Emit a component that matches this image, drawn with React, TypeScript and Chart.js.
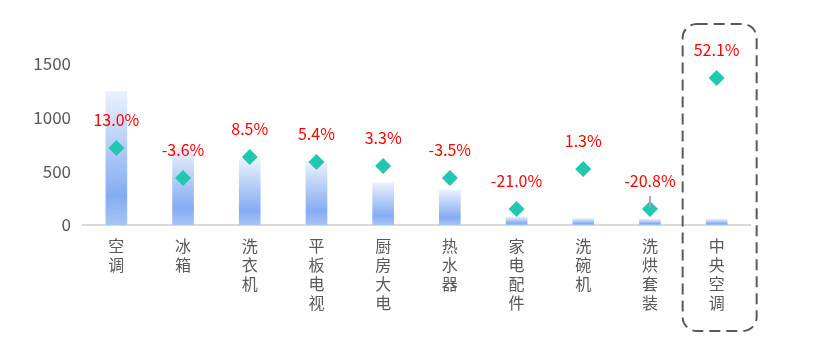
import React, { useEffect, useRef } from "react";
import { Chart, registerables } from "chart.js";

Chart.register(...registerables);

const categories = ["空调", "冰箱", "洗衣机", "平板电视", "厨房大电", "热水器", "家电配件", "洗碗机", "洗烘套装", "中央空调"];
const salesValues = [1242, 715, 612, 590, 394, 326, 77, 62, 56, 56];
const markerValues = [717, 438, 634, 587, 550, 438, 149, 522, 149, 1370];
const growthLabels = ["13.0%", "-3.6%", "8.5%", "5.4%", "3.3%", "-3.5%", "-21.0%", "1.3%", "-20.8%", "52.1%"];
const yTicks = [0, 500, 1000, 1500];
const highlightIndex = 9;
const leaderIndex = 8;

const FONT = "'Microsoft YaHei', 'Noto Sans CJK SC', sans-serif";

const overlayPlugin = {
  id: "overlay",
  afterDatasetsDraw(chart: any) {
    const ctx = chart.ctx as CanvasRenderingContext2D;
    const meta = chart.getDatasetMeta(0);
    ctx.save();
    ctx.font = `16px ${FONT}`;
    ctx.fillStyle = "#ff0000";
    ctx.textAlign = "center";
    ctx.textBaseline = "middle";
    meta.data.forEach((pt: any, i: number) => {
      ctx.fillText(growthLabels[i], pt.x, pt.y - 28);
    });
    // leader line
    const lp = meta.data[leaderIndex];
    if (lp) {
      ctx.strokeStyle = "#a6a6a6";
      ctx.lineWidth = 2;
      ctx.beginPath();
      ctx.moveTo(lp.x, lp.y - 13);
      ctx.lineTo(lp.x, lp.y - 1);
      ctx.stroke();
    }
    // dashed highlight box
    const xs = chart.scales.x;
    const cx = xs.getPixelForValue(highlightIndex);
    const left = cx - 34;
    const right = cx + 40;
    const top = 24;
    const bottom = 331;
    const r = 14;
    ctx.strokeStyle = "#595959";
    ctx.lineWidth = 2;
    ctx.setLineDash([11, 6]);
    ctx.beginPath();
    ctx.moveTo(left + r, top);
    ctx.lineTo(right - r, top);
    ctx.arcTo(right, top, right, top + r, r);
    ctx.lineTo(right, bottom - r);
    ctx.arcTo(right, bottom, right - r, bottom, r);
    ctx.lineTo(left + r, bottom);
    ctx.arcTo(left, bottom, left, bottom - r, r);
    ctx.lineTo(left, top + r);
    ctx.arcTo(left, top, left + r, top, r);
    ctx.closePath();
    ctx.stroke();
    ctx.restore();
  },
};

export default function App() {
  const ref = useRef<HTMLCanvasElement | null>(null);
  useEffect(() => {
    if (!ref.current) return;
    const chart = new Chart(ref.current, {
      type: "bar",
      data: {
        labels: categories.map((c) => c.split("")),
        datasets: [
          {
            type: "line",
            data: markerValues,
            showLine: false,
            pointStyle: "rectRot",
            pointRadius: 8,
            pointHoverRadius: 8,
            pointBackgroundColor: "#22c7b2",
            pointBorderColor: "#22c7b2",
            pointBorderWidth: 0,
            order: 0,
          } as any,
          {
            type: "bar",
            data: salesValues,
            barThickness: 21,
            order: 1,
            backgroundColor: (c: any) => {
              const chart = c.chart;
              const { chartArea, scales } = chart;
              if (!chartArea || c.type !== "data" || !scales.y) return "#8ab0f5";
              const top = scales.y.getPixelForValue(c.raw as number);
              const bottom = scales.y.getPixelForValue(0);
              if (!isFinite(top) || !isFinite(bottom) || bottom - top < 0.5) return "#8ab0f5";
              const g = chart.ctx.createLinearGradient(0, top, 0, bottom);
              g.addColorStop(0, "#eaf1fd");
              g.addColorStop(0.78, "#84acf3");
              g.addColorStop(1, "#a8c4f7");
              return g;
            },
          } as any,
        ],
      },
      options: {
        animation: false,
        responsive: false,
        layout: { padding: { top: 64, right: 79, left: 0, bottom: 0 } },
        plugins: { legend: { display: false }, tooltip: { enabled: false } },
        scales: {
          x: {
            offset: true,
            grid: { display: false, drawTicks: false },
            border: { display: true, color: "#d9d9d9", width: 2 },
            ticks: {
              autoSkip: false,
              maxRotation: 0,
              minRotation: 0,
              padding: 12,
              color: "#595959",
              font: { family: FONT, size: 16, lineHeight: 1.17 },
            },
            afterFit: (s: any) => {
              s.height = 137;
            },
          },
          y: {
            min: 0,
            max: 1500,
            grid: { display: false, drawTicks: false },
            border: { display: false },
            afterBuildTicks: (s: any) => {
              s.ticks = yTicks.map((v) => ({ value: v }));
            },
            ticks: {
              padding: 12,
              color: "#595959",
              font: { family: FONT, size: 17 },
              callback: (v: any) => String(v),
            },
            afterFit: (s: any) => {
              s.width = 83;
            },
          },
        },
      },
      plugins: [overlayPlugin],
    });
    return () => chart.destroy();
  }, []);
  return (
    <div style={{ position: "absolute", left: 0, top: 0, width: 829, height: 362 }}>
      <canvas ref={ref} width={829} height={362} style={{ display: "block" }} />
    </div>
  );
}
